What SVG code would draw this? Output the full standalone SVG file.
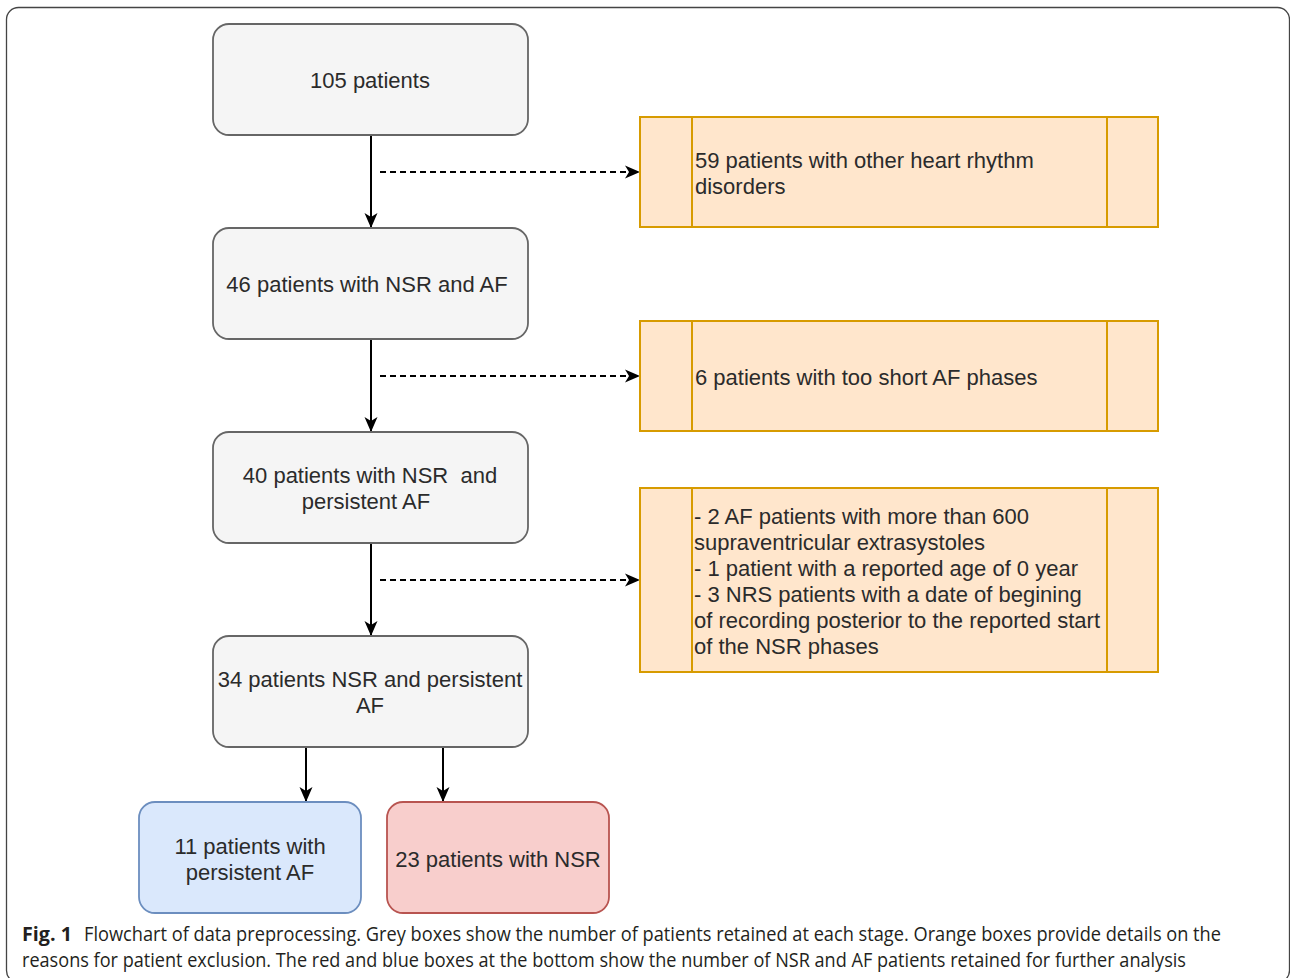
<svg xmlns="http://www.w3.org/2000/svg" width="1290" height="978" viewBox="0 0 1290 978">
<style>
.grey{fill:#f5f5f5;stroke:#666;stroke-width:1.8}
.blue{fill:#dae8fc;stroke:#6c8ebf;stroke-width:1.8}
.red{fill:#f8cecc;stroke:#b85450;stroke-width:1.8}
.orange{fill:#ffe6cc;stroke:#d79b00;stroke-width:2}
.t{font-family:"Liberation Sans",Arial,sans-serif;font-size:22px;fill:#2b2b2b}
.c{text-anchor:middle}
.solid{stroke:#000;stroke-width:2;fill:none}
.dash{stroke:#000;stroke-width:2;fill:none;stroke-dasharray:6 4}
.cap{font-family:"Open Sans","Noto Sans",sans-serif;font-size:19.5px;fill:#231f20}
</style>
<defs>
<marker id="arr" markerUnits="userSpaceOnUse" markerWidth="16" markerHeight="16" viewBox="0 0 16 16" refX="15" refY="8" orient="auto">
<path d="M0,1.5 L15,8 L0,14.5 L4,8 z" fill="#000"/>
</marker>
</defs>
<rect x="6.5" y="7.5" width="1283" height="975" rx="12" fill="none" stroke="#444" stroke-width="1.3"/>
<g id="connectors">
<line class="solid" x1="371" y1="135" x2="371" y2="228" marker-end="url(#arr)"/>
<line class="solid" x1="371" y1="339" x2="371" y2="432" marker-end="url(#arr)"/>
<line class="solid" x1="371" y1="543" x2="371" y2="636" marker-end="url(#arr)"/>
<line class="dash" x1="380" y1="172" x2="640" y2="172" marker-end="url(#arr)"/>
<line class="dash" x1="380" y1="376" x2="640" y2="376" marker-end="url(#arr)"/>
<line class="dash" x1="380" y1="580" x2="640" y2="580" marker-end="url(#arr)"/>
<line class="solid" x1="306" y1="747" x2="306" y2="802" marker-end="url(#arr)"/>
<line class="solid" x1="443" y1="747" x2="443" y2="802" marker-end="url(#arr)"/>
</g>
<g id="n105">
<rect class="grey" x="213" y="24" width="315" height="111" rx="16"/>
<text class="t c" x="370" y="88">105 patients</text>
</g>
<g id="n46">
<rect class="grey" x="213" y="228" width="315" height="111" rx="16"/>
<text class="t c" x="367" y="292">46 patients with NSR and AF</text>
</g>
<g id="n40">
<rect class="grey" x="213" y="432" width="315" height="111" rx="16"/>
<text class="t c" x="370" y="483" style="white-space:pre">40 patients with NSR  and</text>
<text class="t c" x="366" y="509">persistent AF</text>
</g>
<g id="n34">
<rect class="grey" x="213" y="636" width="315" height="111" rx="16"/>
<text class="t c" x="370" y="687">34 patients NSR and persistent</text>
<text class="t c" x="370" y="713">AF</text>
</g>
<g id="nAF">
<rect class="blue" x="139" y="802" width="222" height="111" rx="16"/>
<text class="t c" x="250" y="854">11 patients with</text>
<text class="t c" x="250" y="880">persistent AF</text>
</g>
<g id="nNSR">
<rect class="red" x="387" y="802" width="222" height="111" rx="16"/>
<text class="t c" x="498" y="867">23 patients with NSR</text>
</g>
<g id="ex1">
<rect class="orange" x="640" y="117" width="518" height="110"/>
<line class="orange" x1="692" y1="117" x2="692" y2="227"/>
<line class="orange" x1="1107" y1="117" x2="1107" y2="227"/>
<text class="t" x="695" y="168">59 patients with other heart rhythm</text>
<text class="t" x="695" y="194">disorders</text>
</g>
<g id="ex2">
<rect class="orange" x="640" y="321" width="518" height="110"/>
<line class="orange" x1="692" y1="321" x2="692" y2="431"/>
<line class="orange" x1="1107" y1="321" x2="1107" y2="431"/>
<text class="t" x="695" y="385">6 patients with too short AF phases</text>
</g>
<g id="ex3">
<rect class="orange" x="640" y="488" width="518" height="184"/>
<line class="orange" x1="692" y1="488" x2="692" y2="672"/>
<line class="orange" x1="1107" y1="488" x2="1107" y2="672"/>
<text class="t" x="694" y="524">- 2 AF patients with more than 600</text>
<text class="t" x="694" y="550">supraventricular extrasystoles</text>
<text class="t" x="694" y="576">- 1 patient with a reported age of 0 year</text>
<text class="t" x="694" y="602">- 3 NRS patients with a date of begining</text>
<text class="t" x="694" y="628">of recording posterior to the reported start</text>
<text class="t" x="694" y="654">of the NSR phases</text>
</g>
<g id="caption">
<text class="cap" x="22" y="941" style="font-weight:bold" textLength="50" lengthAdjust="spacingAndGlyphs">Fig. 1</text>
<text class="cap" x="84" y="941" textLength="1137" lengthAdjust="spacingAndGlyphs">Flowchart of data preprocessing. Grey boxes show the number of patients retained at each stage. Orange boxes provide details on the</text>
<text class="cap" x="22" y="967" textLength="1164" lengthAdjust="spacingAndGlyphs">reasons for patient exclusion. The red and blue boxes at the bottom show the number of NSR and AF patients retained for further analysis</text>
</g>
</svg>
